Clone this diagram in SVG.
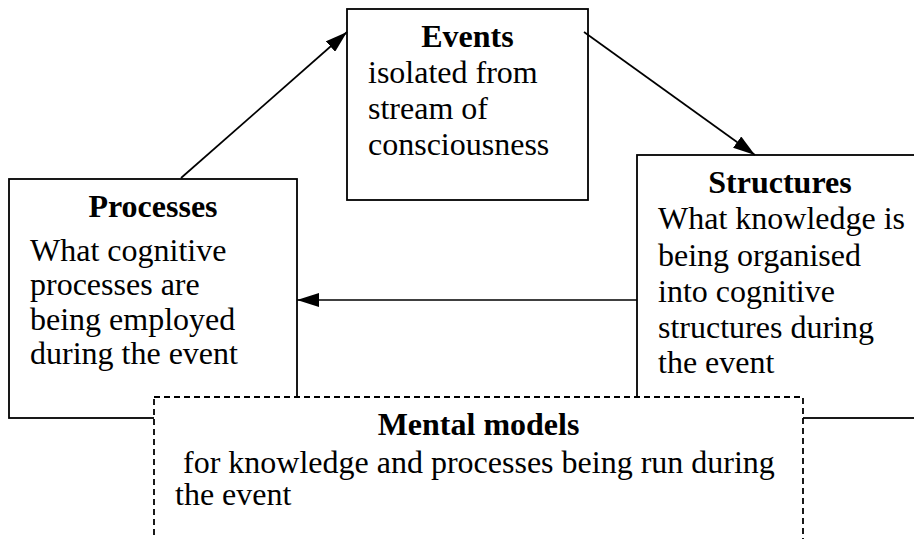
<svg xmlns="http://www.w3.org/2000/svg" width="914" height="539" viewBox="0 0 914 539">
<style>
.box{fill:#fff;stroke:#000;stroke-width:1.8}
.dash{fill:#fff;stroke:#000;stroke-width:1.8;stroke-dasharray:6 4}
text{font-family:"Liberation Serif","Times New Roman",serif;font-size:32px;fill:#000}
.t{font-weight:bold;text-anchor:middle}
.c{fill:none;stroke:#000;stroke-width:1.7}
</style>
<defs>
<marker id="ah" viewBox="0 0 22 14" refX="22" refY="7" markerWidth="22" markerHeight="14" markerUnits="userSpaceOnUse" orient="auto">
<path d="M0,0 L22,7 L0,14 Z" fill="#000"/>
</marker>
</defs>
<rect width="914" height="539" fill="#fff"/>
<g id="events">
<rect class="box" x="347" y="9" width="241" height="191"/>
<text class="t" x="467.5" y="47">Events</text>
<text x="368" y="83">isolated from</text>
<text x="368" y="119">stream of</text>
<text x="368" y="155">consciousness</text>
</g>
<g id="processes">
<rect class="box" x="9" y="179" width="288" height="239"/>
<text class="t" x="153" y="217">Processes</text>
<text x="30" y="261">What cognitive</text>
<text x="30" y="295">processes are</text>
<text x="30" y="330">being employed</text>
<text x="30" y="364">during the event</text>
</g>
<g id="structures">
<rect class="box" x="637" y="155" width="300" height="263"/>
<text class="t" x="780" y="193">Structures</text>
<text x="658" y="229">What knowledge is</text>
<text x="658" y="266">being organised</text>
<text x="658" y="302">into cognitive</text>
<text x="658" y="338">structures during</text>
<text x="658" y="373">the event</text>
</g>
<g id="mental-models">
<rect class="dash" x="154" y="397" width="649" height="170"/>
<text class="t" x="478.5" y="435">Mental models</text>
<text x="175" y="473" xml:space="preserve"> for knowledge and processes being run during</text>
<text x="175" y="505">the event</text>
</g>
<g id="connectors">
<line class="c" x1="181" y1="178" x2="347" y2="32" marker-end="url(#ah)"/>
<line class="c" x1="584" y1="32" x2="755" y2="155" marker-end="url(#ah)"/>
<line class="c" x1="637" y1="300" x2="297" y2="300" marker-end="url(#ah)"/>
</g>
</svg>
